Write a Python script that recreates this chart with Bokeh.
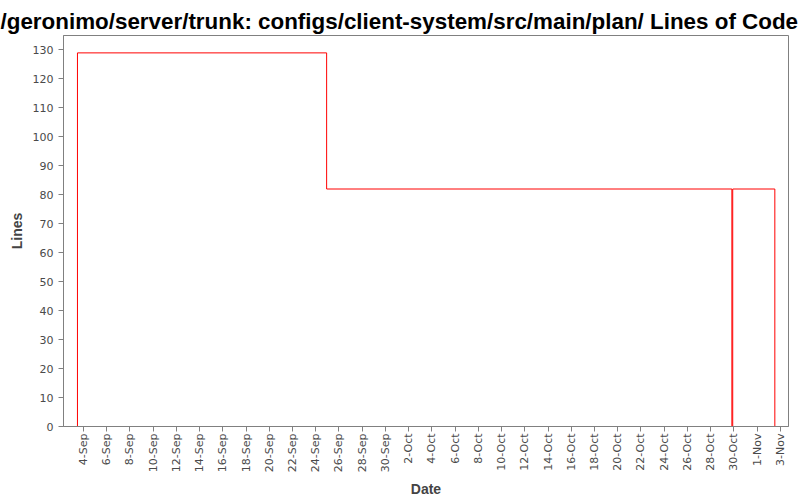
import pandas as pd
from bokeh.plotting import figure
from bokeh.models import FixedTicker, Range1d
from bokeh.embed import file_html
from bokeh.resources import INLINE

# ---- data ----
title_text = "/geronimo/server/trunk: configs/client-system/src/main/plan/ Lines of Code"
base_date = "2005-09-04"
year = "2005"
change_dates = ["2005-09-03 11:35", "2005-09-03 11:35", "2005-09-24 22:30",
                "2005-10-29 20:00", "2005-10-29 21:45", "2005-11-02 12:45"]
line_counts = [0, 129, 82, 0, 82, 0]
tick_labels = ["4-Sep", "6-Sep", "8-Sep", "10-Sep", "12-Sep", "14-Sep", "16-Sep",
               "18-Sep", "20-Sep", "22-Sep", "24-Sep", "26-Sep", "28-Sep", "30-Sep",
               "2-Oct", "4-Oct", "6-Oct", "8-Oct", "10-Oct", "12-Oct", "14-Oct",
               "16-Oct", "18-Oct", "20-Oct", "22-Oct", "24-Oct", "26-Oct", "28-Oct",
               "30-Oct", "1-Nov", "3-Nov"]
y_ticks = [0, 10, 20, 30, 40, 50, 60, 70, 80, 90, 100, 110, 120, 130]
x_start, x_end = "2005-09-02 06:43", "2005-11-03 17:00"
y_start, y_end = 0, 135

# ---- convert dates to day offsets ----
base = pd.Timestamp(base_date)
day = pd.Timedelta(days=1)
xd = [(pd.Timestamp(d) - base) / day for d in change_dates]
tick_pos = [int(round((pd.to_datetime(f"{lab}-{year}", format="%d-%b-%Y") - base) / day))
            for lab in tick_labels]

# step path (value holds until next change)
xs, ys = [], []
prev = None
for x, y in zip(xd, line_counts):
    if prev is not None:
        xs.append(x); ys.append(prev)
    xs.append(x); ys.append(y)
    prev = y

p = figure(width=800, height=500,
           x_range=Range1d((pd.Timestamp(x_start) - base) / day, (pd.Timestamp(x_end) - base) / day),
           y_range=Range1d(y_start, y_end),
           output_backend="svg", toolbar_location=None,
           min_border_left=63, min_border_right=12, min_border_top=35, min_border_bottom=74,
           background_fill_color="white", border_fill_color="white")

p.title.text = title_text
p.title.text_font = "Liberation Sans"
p.title.text_font_size = "22.4px"
p.title.text_font_style = "bold"
p.title.text_color = "black"
p.title.align = "left"
p.title.offset = -63
p.title.vertical_align = "top"
p.title.standoff = 0

p.outline_line_color = "#808080"
p.outline_line_width = 1
p.xgrid.visible = False
p.ygrid.visible = False

p.line(xs, ys, line_color="#ff0000", line_width=1)

for ax in (p.xaxis[0], p.yaxis[0]):
    ax.axis_line_color = "#808080"
    ax.major_tick_line_color = "#808080"
    ax.minor_tick_line_color = None
    ax.major_tick_in = 0
    ax.major_tick_out = 5
    ax.major_label_text_font = "DejaVu Sans"
    ax.major_label_text_font_size = "11px"
    ax.major_label_text_color = "#4a4a4a"
    ax.axis_label_text_font = "Liberation Sans"
    ax.axis_label_text_font_size = "14px"
    ax.axis_label_text_font_style = "bold"
    ax.axis_label_text_color = "#444444"

p.xaxis.axis_label = "Date"
p.yaxis.axis_label = "Lines"
p.xaxis.ticker = FixedTicker(ticks=tick_pos)
p.xaxis.major_label_overrides = {t: lab for t, lab in zip(tick_pos, tick_labels)}
p.xaxis.major_label_orientation = 3.14159265 / 2
p.xaxis.major_label_standoff = 2
p.xaxis.axis_label_standoff = 6
p.yaxis.ticker = FixedTicker(ticks=y_ticks)
p.yaxis.major_label_standoff = 5
p.yaxis.axis_label_standoff = 5

open("out.html", "w").write(file_html(p, INLINE))
